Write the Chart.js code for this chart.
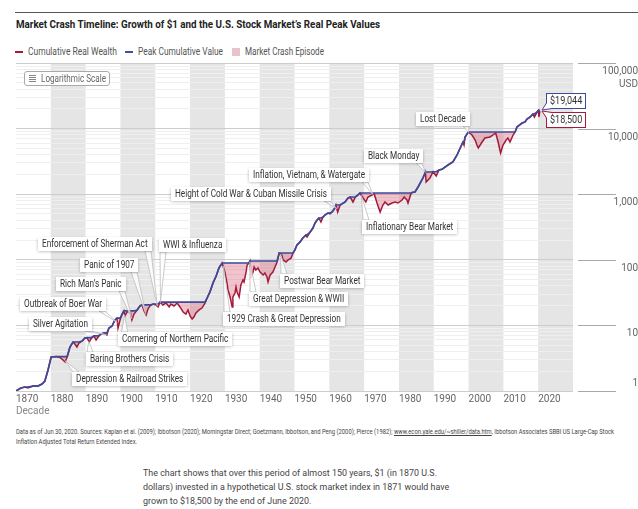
<!DOCTYPE html>
<html><head><meta charset="utf-8">
<script src="https://cdn.jsdelivr.net/npm/chart.js@4.4.1/dist/chart.umd.min.js"></script>
<style>
html,body{margin:0;padding:0;background:#fff;}
body{width:638px;height:509px;position:relative;overflow:hidden;font-family:Roboto,"Liberation Sans",sans-serif;}
.abs{position:absolute;white-space:nowrap;transform-origin:0 0;}
#rule{left:15px;right:0;top:12px;height:1px;background:#555;}
#title{left:16px;top:17px;font-size:11.5px;line-height:14px;font-weight:bold;color:#222;}
.lg{top:45px;font-size:10px;line-height:14px;color:#555;}
.dash{height:2px;width:8px;top:51px;}
#sw{left:232px;top:48px;width:8px;height:8px;background:#e8c3cb;}
#cv{left:0;top:55px;}
#logbtn{left:24px;top:71px;width:84px;height:13px;border:1px solid #aaa;border-radius:3px;background:#fff;}
#logbtn .ic{position:absolute;left:4px;top:3px;width:7px;height:7px;background:repeating-linear-gradient(#888 0 1px,transparent 1px 2px);}
#logtx{left:41px;top:72px;font-size:10px;line-height:13px;color:#666;}
#foot{left:16px;top:427px;font-size:6.6px;line-height:10px;color:#444;}
#foot u{text-decoration:underline;}
#para{left:143px;top:466px;font-size:9.6px;line-height:14px;color:#444;}
</style></head><body>
<div class="abs" id="rule"></div>
<div class="abs" id="title" data-w="364">Market Crash Timeline: Growth of $1 and the U.S. Stock Market’s Real Peak Values</div>
<div class="abs dash" style="left:15px;background:#a31a3a;"></div>
<div class="abs lg" style="left:28px;" data-w="89">Cumulative Real Wealth</div>
<div class="abs dash" style="left:125px;background:#3d4f9f;"></div>
<div class="abs lg" style="left:138px;" data-w="85">Peak Cumulative Value</div>
<div class="abs" id="sw"></div>
<div class="abs lg" style="left:245px;" data-w="79">Market Crash Episode</div>
<canvas class="abs" id="cv" width="638" height="370"></canvas>
<div class="abs" id="logbtn"><span class="ic"></span></div>
<div class="abs" id="logtx" data-w="65">Logarithmic Scale</div>
<div class="abs" id="foot" data-w="598"><span class="m">Data as of Jun 30, 2020. Sources: Kaplan et al. (2009); Ibbotson (2020); Morningstar Direct; Goetzmann, Ibbotson, and Peng (2000); Pierce (1982); <u>www.econ.yale.edu/~shiller/data.htm</u>, Ibbotson Associates SBBI US Large-Cap Stock</span><br>Inflation Adjusted Total Return Extended Index.</div>
<div class="abs" id="para" data-w="294"><span class="m">The chart shows that over this period of almost 150 years, $1 (in 1870 U.S.</span><br>dollars) invested in a hypothetical U.S. stock market index in 1871 would have<br>grown to $18,500 by the end of June 2020.</div>
<script>
// fit condensed-looking text widths
document.querySelectorAll('[data-w]').forEach(el=>{
  const m = el.querySelector('.m') || el;
  const w = m.getBoundingClientRect().width;
  if (w > 0) el.style.transform = 'scaleX(' + (parseFloat(el.dataset.w)/w) + ')';
});

// ---------- data ----------
const years = [1870.0,1871.4,1872.6,1873.4,1874.9,1876.3,1877.5,1878.3,1879.2,1880.1,1881.6,1882.6,1883.5,1884.1,1884.7,1885.5,1886.4,1886.9,1887.5,1888.1,1889.0,1889.8,1890.4,1891.0,1891.5,1892.4,1893.0,1893.6,1894.4,1895.3,1896.1,1896.7,1897.6,1898.4,1899.0,1899.3,1899.9,1900.5,1901.0,1901.3,1901.9,1902.8,1903.3,1903.9,1904.8,1905.6,1906.2,1906.8,1907.4,1907.9,1908.5,1909.4,1910.2,1910.8,1911.4,1912.2,1913.1,1914.0,1914.5,1915.4,1916.3,1917.1,1918.0,1918.8,1919.4,1920.0,1920.6,1921.1,1921.7,1922.6,1923.4,1924.3,1924.9,1925.7,1926.6,1927.5,1928.3,1929.2,1930.0,1930.6,1930.9,1931.5,1932.1,1932.3,1932.9,1933.2,1933.5,1934.1,1934.6,1935.2,1935.5,1936.1,1936.4,1936.9,1937.2,1937.5,1938.1,1938.4,1938.9,1939.5,1940.1,1941.0,1941.5,1942.1,1942.4,1943.0,1943.8,1944.4,1945.0,1945.6,1946.4,1946.7,1947.6,1948.1,1949.0,1949.6,1950.1,1950.7,1951.6,1952.4,1953.3,1953.6,1954.5,1955.3,1955.9,1956.5,1957.0,1957.6,1958.2,1958.8,1959.6,1960.2,1960.8,1961.6,1961.9,1962.4,1963.1,1964.5,1965.4,1966.0,1966.8,1967.5,1968.2,1968.8,1969.7,1970.5,1971.1,1972.3,1972.9,1973.7,1974.6,1975.4,1976.0,1976.9,1978.0,1978.9,1979.7,1980.9,1981.5,1982.3,1982.6,1983.4,1983.8,1984.6,1985.5,1986.9,1987.6,1987.8,1988.9,1989.8,1990.7,1991.5,1992.4,1994.1,1995.5,1996.7,1997.6,1998.4,1998.7,1999.0,1999.9,2001.0,2001.9,2002.4,2002.8,2003.9,2004.7,2006.2,2007.0,2007.8,2008.5,2009.0,2009.2,2009.9,2010.8,2011.3,2011.9,2012.8,2013.4,2013.9,2015.4,2016.2,2016.8,2017.7,2018.5,2018.9,2019.7,2020.1,2020.2,2020.5];
const realWealth = [1.00,1.11,1.15,1.11,1.19,1.19,1.28,1.42,2.09,3.30,3.35,3.25,2.97,2.77,3.30,4.68,5.58,5.21,4.68,5.39,5.78,6.43,6.50,5.58,6.20,6.90,5.99,6.66,7.41,7.67,7.15,9.12,9.78,12.1,12.9,9.12,12.1,14.9,16.6,13.9,16.0,16.3,12.1,14.9,17.2,19.8,20.5,16.6,14.4,17.8,19.8,21.2,20.5,19.1,22.7,20.5,21.9,19.1,21.2,19.8,21.9,19.1,16.0,14.9,17.2,13.9,12.5,13.4,15.5,17.2,18.4,21.9,26.2,32.2,44.4,56.7,75.1,89.4,65.2,44.3,34.7,27.1,19.1,27.1,31.2,38.5,32.3,27.1,41.3,49.2,45.9,65.2,83.3,89.4,95.9,54.7,65.2,77.6,69.9,75.0,65.2,58.7,62.9,54.7,45.9,58.7,65.2,77.6,92.5,127,118,99.3,92.5,99.3,106,127,141,168,187,215,239,223,265,305,364,404,434,377,449,482,517,500,535,616,684,535,684,760,875,906,760,906,972,1043,875,760,906,972,1010,734,535,684,760,684,734,760,734,816,906,816,734,1000,1060,1081,1288,1766,2180,1535,1766,2200,1893,2339,2400,2787,3097,3962,5061,6250,5623,7450,8877,7985,6700,5623,5061,6250,7190,7450,7985,8570,6250,4720,4246,5623,6700,7190,6250,7985,8950,10570,12170,12610,14000,15030,16700,15000,17900,19044,15000,18500];
const xTickYears = [1870,1880,1890,1900,1910,1920,1930,1940,1950,1960,1970,1980,1990,2000,2010,2020];
const shadedDecadeStarts = [1880,1900,1920,1940,1960,1980,2000,2020];
const yTickValues = [1,10,100,1000,10000,100000];
const yTickLabels = ['1','10','100','1,000','10,000','100,000'];
const crashNotes = [
  {text:'Outbreak of Boer War', boxYear:1871.15, boxValue:21.2, atYear:1899.1, atValue:11.0},
  {text:'Silver Agitation', boxYear:1873.7, boxValue:10.5, atYear:1896.0, atValue:7.2},
  {text:'Rich Man’s Panic', boxYear:1881.5, boxValue:42.7, atYear:1903.3, atValue:12.6},
  {text:'Panic of 1907', boxYear:1888.4, boxValue:83.3, atYear:1907.3, atValue:14.8},
  {text:'Enforcement of Sherman Act', boxYear:1876.3, boxValue:174, atYear:1910.6, atValue:19.6},
  {text:'WWI & Influenza', boxYear:1911.1, boxValue:168, atYear:1911.5, atValue:22.4},
  {text:'1929 Crash & Great Depression', boxYear:1929.5, boxValue:12.5, atYear:1929.6, atValue:80},
  {text:'Great Depression & WWII', boxYear:1936.9, boxValue:24.9, atYear:1937.2, atValue:93},
  {text:'Postwar Bear Market', boxYear:1945.8, boxValue:48.3, atYear:1946.0, atValue:122},
  {text:'Height of Cold War & Cuban Missile Crisis', boxYear:1914.5, boxValue:1007, atYear:1962.2, atValue:600},
  {text:'Inflation, Vietnam, & Watergate', boxYear:1936.9, boxValue:1966, atYear:1972.5, atValue:990},
  {text:'Inflationary Bear Market', boxYear:1969.4, boxValue:316, atYear:1969.2, atValue:960},
  {text:'Black Monday', boxYear:1970.0, boxValue:3840, atYear:1987.6, atValue:2150},
  {text:'Lost Decade', boxYear:1984.9, boxValue:14000, atYear:2000.0, atValue:8700},
  {text:'Baring Brothers Crisis', boxYear:1890.1, boxValue:3.07, atYear:1890.9, atValue:5.7},
  {text:'Depression & Railroad Strikes', boxYear:1886.1, boxValue:1.52, atYear:1884.1, atValue:2.9},
  {text:'Cornering of Northern Pacific', boxYear:1899.3, boxValue:6.2, atYear:1901.2, atValue:14.5}
];
// peak = running maximum of the wealth series
const peakValue = [];
realWealth.forEach((v,i)=>{ peakValue.push(i===0 ? v : Math.max(peakValue[i-1], v)); });

// ---------- styling ----------
const FONT = 'Roboto, "Liberation Sans", sans-serif';
const RED = '#a31a3a', BLUE = '#3d4a9c', PINK = 'rgba(205,55,90,0.30)';
const isMajor = v => yTickValues.indexOf(v) >= 0;
const mctx = document.createElement('canvas').getContext('2d');
mctx.font = '10px ' + FONT;
const widestY = mctx.measureText('100,000').width;
// horizontal squeeze for canvas note text (matches condensed face of the original)
const NOTE_SX = 152 / mctx.measureText('Height of Cold War & Cuban Missile Crisis').width;

const bandsPlugin = {
  id:'bands',
  beforeDraw(chart){
    const {ctx, chartArea:a, scales:{x}} = chart;
    ctx.save();
    ctx.fillStyle = '#e5e5e5';
    shadedDecadeStarts.forEach(s=>{
      const x0 = Math.max(x.getPixelForValue(s), a.left);
      const x1 = Math.min(x.getPixelForValue(s+10), a.right);
      ctx.fillRect(x0, a.top, x1-x0, a.bottom-a.top);
    });
    ctx.restore();
  },
  afterDraw(chart){
    const {ctx, chartArea:a, scales:{y}} = chart;
    ctx.save();
    ctx.strokeStyle = '#aaa'; ctx.lineWidth = 1;
    yTickValues.forEach(v=>{
      const py = Math.round(y.getPixelForValue(v)) + 0.5;
      ctx.beginPath(); ctx.moveTo(a.right+5, py); ctx.lineTo(616, py); ctx.stroke();
    });
    ctx.restore();
  }
};

function clamp(v,a,b){return Math.max(a,Math.min(b,v));}
function squeezeText(ctx, txt, x, y, sx){
  ctx.save(); ctx.translate(x, y); ctx.scale(sx, 1); ctx.fillText(txt, 0, 0); ctx.restore();
}
const notesPlugin = {
  id:'notes',
  afterDatasetsDraw(chart){
    const {ctx, scales:{x,y}} = chart;
    ctx.save();
    ctx.font = '10px ' + FONT;
    crashNotes.forEach(n=>{
      const tw = ctx.measureText(n.text).width * NOTE_SX;
      const bx = Math.round(x.getPixelForValue(n.boxYear)), by = Math.round(y.getPixelForValue(n.boxValue));
      const w = Math.round(tw + 8), h = 14, top = by - h/2, bottom = by + h/2, right = bx + w;
      const ax = x.getPixelForValue(n.atYear), ay = y.getPixelForValue(n.atValue);
      let p1, p2;
      if (ay > bottom) { const c = clamp(ax, bx+4, right-4); p1=[c-3,bottom]; p2=[c+3,bottom]; }
      else if (ay < top) { const c = clamp(ax, bx+4, right-4); p1=[c-3,top]; p2=[c+3,top]; }
      else if (ax > right) { const c = clamp(ay, top+3, bottom-3); p1=[right,c-3]; p2=[right,c+3]; }
      else { const c = clamp(ay, top+3, bottom-3); p1=[bx,c-3]; p2=[bx,c+3]; }
      ctx.beginPath(); ctx.moveTo(p1[0],p1[1]); ctx.lineTo(ax,ay); ctx.lineTo(p2[0],p2[1]); ctx.closePath();
      ctx.fillStyle = 'rgba(255,255,255,0.8)'; ctx.fill();
      ctx.strokeStyle = '#bdbdbd'; ctx.lineWidth = 0.8; ctx.stroke();
      ctx.save();
      ctx.shadowColor = 'rgba(0,0,0,0.3)'; ctx.shadowBlur = 3; ctx.shadowOffsetY = 0.5;
      ctx.fillStyle = '#fff'; ctx.fillRect(bx, top, w, h);
      ctx.restore();
      ctx.fillStyle = '#333'; ctx.textBaseline = 'middle'; ctx.textAlign = 'left';
      squeezeText(ctx, n.text, bx+4, by+0.5, NOTE_SX);
    });
    // end value labels
    const li = years.length - 1;
    const xe = x.getPixelForValue(years[li]);
    const yp = y.getPixelForValue(peakValue[li]), yw = y.getPixelForValue(realWealth[li]);
    ctx.font = '11px ' + FONT;
    const fmt = v => '$' + Math.round(v).toLocaleString('en-US');
    const drawTag = (txt, col, left, top, tailUp) => {
      const w = Math.round(ctx.measureText(txt).width * NOTE_SX + 8), h = 16;
      ctx.fillStyle = '#fff'; ctx.strokeStyle = col; ctx.lineWidth = 1;
      ctx.fillRect(left, top, w, h); ctx.strokeRect(left+0.5, top+0.5, w-1, h-1);
      ctx.beginPath();
      if (tailUp) { ctx.moveTo(left+0.5, top+6); ctx.lineTo(left-4, top-1); ctx.lineTo(left+6, top+0.5); }
      else { ctx.moveTo(left+0.5, top+h-6); ctx.lineTo(left-4, top+h+1); ctx.lineTo(left+6, top+h-0.5); }
      ctx.fillStyle = '#fff'; ctx.fill(); ctx.stroke();
      ctx.fillStyle = '#333'; ctx.textBaseline = 'middle';
      squeezeText(ctx, txt, left+4, top+h/2+0.5, NOTE_SX);
    };
    drawTag(fmt(peakValue[li]), BLUE, Math.round(xe+6), Math.round(yp-17), false);
    drawTag(fmt(realWealth[li]), RED, Math.round(xe+6), Math.round(yw+0.5), true);
    ctx.restore();
  }
};

new Chart(document.getElementById('cv'), {
  type:'line',
  data:{
    datasets:[
      {label:'Peak Cumulative Value', data: years.map((yr,i)=>({x:yr, y:peakValue[i]})), borderColor:BLUE, borderWidth:1.7, pointRadius:0, fill:false, tension:0},
      {label:'Cumulative Real Wealth', data: years.map((yr,i)=>({x:yr, y:realWealth[i]})), borderColor:RED, borderWidth:1.5, pointRadius:0, fill:{target:0}, backgroundColor:PINK, tension:0}
    ]
  },
  options:{
    responsive:false, animation:false, devicePixelRatio:1,
    layout:{padding:{left:16, top:8, right:0, bottom:0}},
    plugins:{legend:{display:false}, tooltip:{enabled:false}},
    scales:{
      x:{type:'linear', position:'bottom', min:1870, max:2030,
        afterBuildTicks: s => { s.ticks = xTickYears.map(v=>({value:v})); },
        afterFit: s => { s.height = 34; s.paddingLeft = 0; s.paddingRight = 0; },
        grid:{display:false, drawTicks:false}, border:{display:false},
        ticks:{align:'start', padding:2, color:'#666', maxRotation:0, autoSkip:false, font:{family:FONT, size:10}, callback: v => String(v)},
        title:{display:true, text:'Decade', align:'start', color:'#888', font:{family:FONT, size:10}, padding:{top:0, bottom:8}}
      },
      y:{type:'logarithmic', position:'right', min:1, max:100000,
        afterBuildTicks: s => { const t=[]; for (let e=0;e<5;e++){ for (let k=1;k<10;k++) t.push({value:k*Math.pow(10,e)}); } t.push({value:100000}); s.ticks = t; },
        afterFit: s => { s.width = 65; s.paddingTop = 0; s.paddingBottom = 0; },
        grid:{drawTicks:false, color: c => (c.tick && isMajor(c.tick.value)) ? '#cdcdcd' : '#efefef', lineWidth:1},
        border:{display:false},
        ticks:{autoSkip:false, crossAlign:'far', padding: Math.max(0, 616 - 573 - widestY), labelOffset:8.5, color:'#666',
          font: c => { const v = c.tick ? c.tick.value : 0; return {family:FONT, size:10, lineHeight: v===1 ? '16.5px' : (v===100000 ? '12.5px' : '13px')}; },
          callback: v => { const i = yTickValues.indexOf(v); if (i<0) return ''; if (v===100000) return ['', yTickLabels[i], 'USD']; if (v===1) return [yTickLabels[i], '', '']; return yTickLabels[i]; }
        }
      }
    }
  },
  plugins:[bandsPlugin, notesPlugin]
});
</script>
</body></html>
